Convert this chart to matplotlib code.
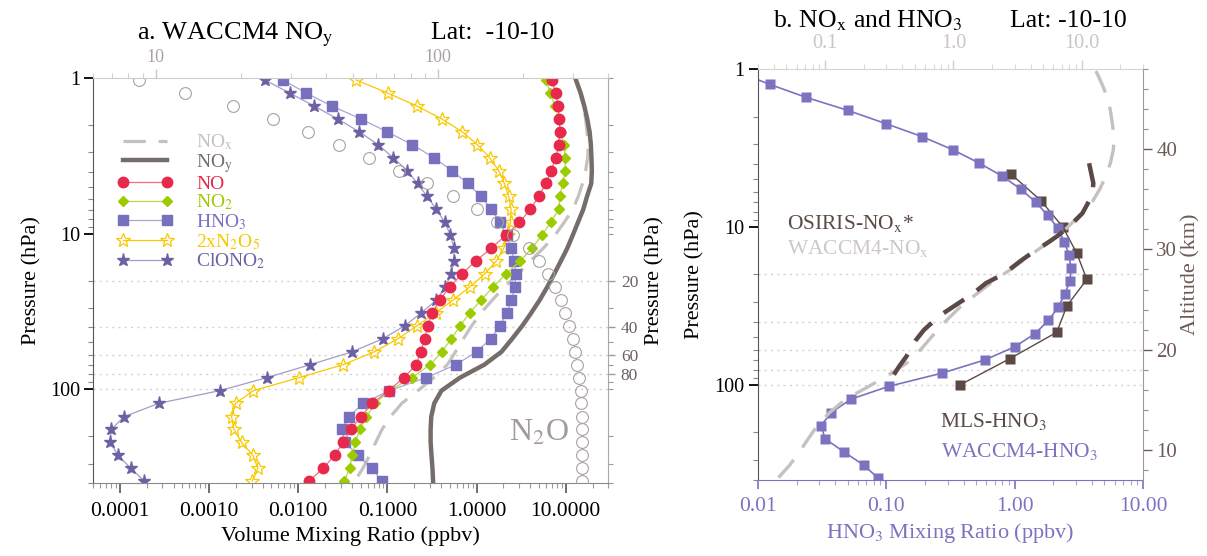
import matplotlib
matplotlib.use('Agg')
import matplotlib.pyplot as plt
from matplotlib.ticker import (FixedLocator, FormatStrFormatter, NullFormatter,
                               LogLocator, MultipleLocator)

plt.rcParams['font.family'] = ['Liberation Serif', 'DejaVu Serif']
plt.rcParams['mathtext.fontset'] = 'stix'

# WACCM4 levels (hPa), top to bottom
pres = [1.03, 1.25, 1.51, 1.83, 2.22, 2.68, 3.25, 3.94, 4.76, 5.77, 6.99, 8.46,
        10.2, 12.4, 15.0, 18.2, 22.0, 26.7, 32.3, 39.1, 47.4, 57.4, 69.5, 84.2,
        102.0, 123.0, 150.0, 181.0, 219.0, 266.0, 322.0, 389.0]

# volume mixing ratios (ppbv), lat -10..10
no = [6.92, 7.75, 8.22, 8.44, 8.6, 8.3, 7.75, 6.82, 6.0, 4.96, 4.0, 3.02,
      2.14, 1.46, 0.98, 0.68, 0.50, 0.386, 0.318, 0.282, 0.261, 0.237, 0.21, 0.153,
      0.103, 0.068, 0.050, 0.039, 0.032, 0.0255, 0.019, 0.0132]
no2 = [6.0, 6.7, 7.56, 8.3, 8.73, 9.6, 9.85, 9.85, 9.2, 8.6, 8.3, 6.82,
       5.41, 4.18, 3.08, 2.12, 1.53, 1.12, 0.836, 0.653, 0.521, 0.407, 0.303, 0.187,
       0.105, 0.073, 0.058, 0.049, 0.0435, 0.0403, 0.0376, 0.033]
hno3 = [0.0067, 0.0123, 0.0236, 0.0503, 0.0995, 0.190, 0.331, 0.528, 0.798, 1.116, 1.468, 1.81,
        2.18, 2.43, 2.65, 2.74, 2.70, 2.45, 2.18, 1.83, 1.44, 1.0, 0.585, 0.272,
        0.105, 0.0531, 0.0371, 0.031, 0.0333, 0.0468, 0.0667, 0.0862]
n2o5x2 = [0.0446, 0.101, 0.212, 0.407, 0.692, 1.02, 1.40, 1.77, 2.05, 2.29, 2.44, 2.40,
          2.24, 2.02, 1.66, 1.23, 0.835, 0.545, 0.346, 0.215, 0.131, 0.0713, 0.0318, 0.0102,
          0.00314, 0.00198, 0.00179, 0.0019, 0.00231, 0.0031, 0.00353, 0.00305]
clono2 = [0.00423, 0.00804, 0.0149, 0.0276, 0.0486, 0.0785, 0.116, 0.167, 0.218, 0.279, 0.355, 0.44,
          0.508, 0.558, 0.56, 0.516, 0.447, 0.355, 0.239, 0.156, 0.0884, 0.0403, 0.0136, 0.00443,
          0.00132, 0.000273, 0.000112, 0.0000797, 0.0000781, 0.0000953, 0.000133, 0.000188]
nox = [12.9, 14.4, 15.8, 16.7, 17.3, 17.9, 17.6, 16.7, 15.4, 13.8, 12.0, 9.6,
       7.6, 5.6, 4.0, 2.9, 2.05, 1.5, 1.12, 0.88, 0.71, 0.58, 0.47, 0.33,
       0.22, 0.145, 0.108, 0.087, 0.074, 0.063, 0.053, 0.043]
noy = [13.0, 14.7, 16.1, 17.4, 18.5, 19.1, 19.4, 19.6, 19.3, 17.3, 15.7, 13.7,
       12.0, 10.4, 8.8, 7.4, 6.2, 5.1, 4.1, 3.25, 2.5, 1.9, 1.22, 0.65,
       0.404, 0.335, 0.31, 0.305, 0.305, 0.312, 0.32, 0.325]
n2o = [8.75, 12.7, 18.7, 26.0, 34.5, 44.6, 57.0, 72.5, 91.0, 113.0, 137.0, 161.0,
       184.0, 209.0, 228.0, 244.0, 258.0, 273.0, 282.0, 290.0, 300.0, 305.0, 311.0, 316.0,
       320.0, 321.0, 322.0, 322.0, 323.0, 323.0, 323.0, 323.0]

# observations
mls_p = [4.64, 6.81, 10.0, 14.7, 21.5, 31.6, 46.4, 68.1, 100.0]
mls_hno3 = [0.94, 1.60, 2.37, 3.05, 3.65, 2.55, 2.13, 0.92, 0.375]
osiris_p = [3.95, 5.29, 6.27, 8.2, 9.26, 11.2, 12.4, 15.0, 16.6, 19.7, 22.7, 25.6,
            28.3, 34.4, 36.9, 44.8, 52.0, 66.0, 76.5, 100.0]
osiris_nox = [11.4, 12.3, 12.1, 10.1, 8.7, 6.67, 5.57, 3.9, 3.27, 2.5, 1.79, 1.49,
              1.25, 0.87, 0.77, 0.59, 0.51, 0.43, 0.377, 0.306]

ref_levels = [20, 40, 60, 80, 100]

C_NO, C_NO_L = '#e8294b', '#ef6f84'
C_NO2, C_NO2_L = '#9ccb00', '#b6d84a'
C_HNO3, C_HNO3_L = '#7770be', '#a9a5d9'
C_N2O5 = '#f8c800'
C_CLONO2, C_CLONO2_L = '#6f60a4', '#a49bc9'
C_NOX = '#c5c1bf'
C_NOY = '#766c6a'
C_N2O = '#a9a1a0'
C_DARK = '#5b4945'
C_BROWN = '#6e5a55'
C_PURPLE = '#7b72c0'

MAJ, MIN = 6.5, 3.5

fig = plt.figure(figsize=(12.07, 5.56), dpi=100)


def style_log_y(a):
    a.yaxis.set_major_locator(FixedLocator([1, 10, 100]))
    a.yaxis.set_major_formatter(FormatStrFormatter('%d'))
    a.yaxis.set_minor_locator(LogLocator(base=10, subs=range(2, 10), numticks=20))
    a.yaxis.set_minor_formatter(NullFormatter())
    a.tick_params(axis='y', which='major', direction='out', length=MAJ, width=1.3,
                  color='black', labelsize=14.5, pad=3)
    a.tick_params(axis='y', which='minor', direction='out', length=MIN, width=0.8,
                  color='#888888')


def log_minor(axis):
    axis.set_minor_locator(LogLocator(base=10, subs=range(2, 10), numticks=20))
    axis.set_minor_formatter(NullFormatter())


# ---------------- panel a ----------------
ax = fig.add_axes([0.0771, 0.1313, 0.4269, 0.7284])
ax.set_xscale('log')
ax.set_yscale('log')
for p in ref_levels:
    ax.axhline(p, color='#d2d2d2', lw=1, ls=(0, (1.5, 3)), zorder=0)

l_nox, = ax.plot(nox, pres, color=C_NOX, lw=2.3, dashes=(7, 4))
l_noy, = ax.plot(noy, pres, color=C_NOY, lw=3.2)
l_clono2, = ax.plot(clono2, pres, color=C_CLONO2_L, lw=0.9, marker='*', ms=9.5,
                    mfc=C_CLONO2, mec=C_CLONO2)
l_n2o5, = ax.plot(n2o5x2, pres, color=C_N2O5, lw=0.9, marker='*', ms=10.5,
                  mfc='none', mec=C_N2O5, mew=0.9)
l_hno3, = ax.plot(hno3, pres, color=C_HNO3_L, lw=0.9, marker='s', ms=6.5,
                  mfc=C_HNO3, mec=C_HNO3)
l_no2, = ax.plot(no2, pres, color=C_NO2_L, lw=0.9, marker='D', ms=5.5,
                 mfc=C_NO2, mec=C_NO2)
l_no, = ax.plot(no, pres, color=C_NO_L, lw=0.9, marker='o', ms=7.5,
                mfc=C_NO, mec=C_NO)

ax.set_xlim(5e-5, 30)
ax.set_ylim(400, 1)

ax.xaxis.set_major_locator(LogLocator(base=10, numticks=12))
ax.xaxis.set_major_formatter(FormatStrFormatter('%.4f'))
log_minor(ax.xaxis)
ax.tick_params(axis='x', which='major', direction='out', length=MAJ + 1, width=1.2,
               color='#555555', labelsize=15.5, pad=6)
ax.tick_params(axis='x', which='minor', direction='out', length=MIN, width=0.8,
               color='#999999')
style_log_y(ax)
ax.spines['left'].set_color('#555555')
ax.spines['bottom'].set_color('#8a8a8a')
ax.spines['top'].set_visible(False)
ax.spines['right'].set_visible(False)
ax.set_xlabel('Volume Mixing Ratio (ppbv)', fontsize=16, labelpad=4)
ax.set_ylabel('Pressure (hPa)', fontsize=16, labelpad=6)

handles = [l_nox, l_noy, l_no, l_no2, l_hno3, l_n2o5, l_clono2]
labels = [r'NO$_\mathrm{x}$', r'NO$_\mathrm{y}$', 'NO', r'NO$_2$', r'HNO$_3$',
          r'2xN$_2$O$_5$', r'ClONO$_2$']
ax.legend(handles, labels, loc='upper left', bbox_to_anchor=(0.032, 0.885),
          frameon=False, numpoints=2, handlelength=2.85, handletextpad=1.2,
          labelspacing=0.0, fontsize=14, borderaxespad=0,
          labelcolor=[C_NOX, C_NOY, C_NO, C_NO2, C_HNO3, C_N2O5, C_CLONO2])

ax.text(0.865, 0.123, r'N$_2$O', transform=ax.transAxes, fontsize=23,
        color='#a39b99', ha='center', va='center')

# N2O on its own top scale
axt = ax.twiny()
axt.set_xscale('log')
axt.plot(n2o, pres, linestyle='none', marker='o', ms=8.5, mfc='none',
         mec=C_N2O, mew=0.8)
axt.set_xlim(6, 400)
axt.set_ylim(400, 1)
axt.xaxis.set_major_locator(FixedLocator([10, 100]))
axt.xaxis.set_major_formatter(FormatStrFormatter('%d'))
log_minor(axt.xaxis)
axt.tick_params(axis='x', which='major', direction='out', length=MAJ, width=1,
                color='#c8c8c8', labelcolor='#aaa2a0', labelsize=13, pad=2)
axt.tick_params(axis='x', which='minor', direction='out', length=MIN, width=0.8,
                color='#d0d0d0')
for s in ['left', 'right', 'bottom']:
    axt.spines[s].set_visible(False)
axt.spines['top'].set_color('#cccccc')

sec = ax.secondary_yaxis('right')
sec.yaxis.set_major_locator(FixedLocator([20, 40, 60, 80]))
sec.yaxis.set_major_formatter(FormatStrFormatter('%d'))
sec.yaxis.set_minor_locator(LogLocator(base=10, subs=range(1, 10), numticks=20))
sec.yaxis.set_minor_formatter(NullFormatter())
sec.tick_params(axis='y', which='major', direction='out', length=MAJ - 1.5, width=1,
                color='#9a9a9a', labelcolor='#6e6260', labelsize=12.5, pad=4)
sec.tick_params(axis='y', which='minor', direction='out', length=MIN, width=0.8,
                color='#9a9a9a')
sec.spines['right'].set_color('#a8a8a8')
sec.set_ylabel('Pressure (hPa)', fontsize=16, labelpad=5)

# ---------------- panel b ----------------
bx = fig.add_axes([0.628, 0.1367, 0.319, 0.7392])
bx.set_xscale('log')
bx.set_yscale('log')
for p in ref_levels:
    bx.axhline(p, color='#d2d2d2', lw=1, ls=(0, (1.5, 3)), zorder=0)
bx.plot(mls_hno3, mls_p, color=C_DARK, lw=1, marker='s', ms=6.5, mec='none')
bx.plot(hno3, pres, color=C_PURPLE, lw=1.2, marker='s', ms=6.5, mec='none')
bx.set_xlim(0.01, 10)
bx.set_ylim(400, 1)
bx.xaxis.set_major_locator(LogLocator(base=10, numticks=12))
bx.xaxis.set_major_formatter(FormatStrFormatter('%.2f'))
log_minor(bx.xaxis)
bx.tick_params(axis='x', which='major', direction='out', length=MAJ, width=1.2,
               color=C_PURPLE, labelcolor=C_PURPLE, labelsize=15.5, pad=6)
bx.tick_params(axis='x', which='minor', direction='out', length=MIN, width=0.8,
               color='#a9a5d9')
style_log_y(bx)
bx.spines['left'].set_color('#555555')
bx.spines['bottom'].set_color(C_PURPLE)
bx.spines['top'].set_visible(False)
bx.spines['right'].set_visible(False)
bx.set_xlabel(r'HNO$_3$ Mixing Ratio (ppbv)', fontsize=16, color=C_PURPLE,
              labelpad=3)
bx.set_ylabel('Pressure (hPa)', fontsize=16, labelpad=7)

bx.text(0.075, 0.625, r'OSIRIS-NO$_\mathrm{x}$*', transform=bx.transAxes,
        fontsize=15.5, color=C_DARK, ha='left', va='center')
bx.text(0.075, 0.564, r'WACCM4-NO$_\mathrm{x}$', transform=bx.transAxes,
        fontsize=15.5, color='#cdc8c6', ha='left', va='center')
bx.text(0.473, 0.142, r'MLS-HNO$_3$', transform=bx.transAxes,
        fontsize=15.5, color=C_DARK, ha='left', va='center')
bx.text(0.476, 0.069, r'WACCM4-HNO$_3$', transform=bx.transAxes,
        fontsize=15.5, color=C_PURPLE, ha='left', va='center')

# NOx on the top scale
bxt = bx.twiny()
bxt.set_xscale('log')
bxt.plot(nox, pres, color=C_NOX, lw=2.4, dashes=(7, 4.5))
bxt.plot(osiris_nox, osiris_p, color=C_DARK, lw=3.2, dashes=(5.5, 3.5))
bxt.set_xlim(0.03, 30)
bxt.set_ylim(400, 1)
bxt.xaxis.set_major_locator(FixedLocator([0.1, 1, 10]))
bxt.xaxis.set_major_formatter(FormatStrFormatter('%.1f'))
log_minor(bxt.xaxis)
bxt.tick_params(axis='x', which='major', direction='out', length=MAJ, width=1,
                color='#d0d0d0', labelcolor='#cbc5c3', labelsize=14.5, pad=5)
bxt.tick_params(axis='x', which='minor', direction='out', length=MIN, width=0.8,
                color='#d8d8d8')
for s in ['left', 'right', 'bottom']:
    bxt.spines[s].set_visible(False)
bxt.spines['top'].set_color('#d4d4d4')

# altitude scale
bxr = bx.twinx()
bxr.set_ylim(7, 48)
bxr.yaxis.set_major_locator(MultipleLocator(10))
bxr.yaxis.set_minor_locator(MultipleLocator(2))
bxr.tick_params(axis='y', which='major', direction='out', length=MAJ, width=1,
                color=C_BROWN, labelcolor=C_BROWN, labelsize=15, pad=3)
bxr.tick_params(axis='y', which='minor', direction='out', length=MIN, width=0.8,
                color='#9a8d8a')
for s in ['left', 'top', 'bottom']:
    bxr.spines[s].set_visible(False)
bxr.spines['right'].set_color('#a39694')
bxr.set_ylabel('Altitude (km)', fontsize=16, color=C_BROWN, labelpad=3)

# titles
fig.text(0.1135, 0.930, r'a. WACCM4 NO$_\mathrm{y}$', fontsize=19, va='baseline')
fig.text(0.357, 0.930, 'Lat:  -10-10', fontsize=18.5, va='baseline')
fig.text(0.6404, 0.9514, r'b. NO$_\mathrm{x}$ and HNO$_3$', fontsize=18.5, va='baseline')
fig.text(0.8368, 0.9514, 'Lat: -10-10', fontsize=18.5, va='baseline')

fig.savefig('out.png', dpi=100)
